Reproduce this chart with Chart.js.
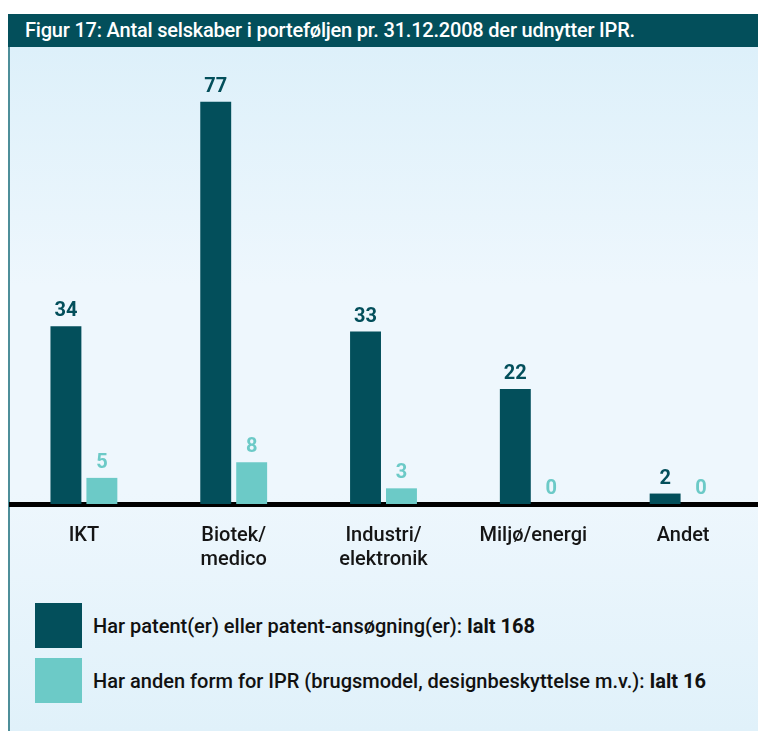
<!DOCTYPE html>
<html>
<head>
<meta charset="utf-8">
<script src="https://cdn.jsdelivr.net/npm/chart.js@4/dist/chart.umd.min.js"></script>
<style>
  html, body { margin:0; padding:0; background:#fff; }
  body { width:758px; height:731px; position:relative; overflow:hidden; font-family:Roboto, sans-serif; }
  #title { position:absolute; left:8px; top:14px; width:750px; height:33px; background:#034f5b; color:#fff;
           font-size:20px; font-weight:500; line-height:33px; padding-left:17px; box-sizing:border-box; white-space:nowrap; letter-spacing:-0.2px; }
  #panel { position:absolute; left:8px; top:47px; width:750px; height:684px; box-sizing:border-box;
           border-left:2px solid #4d8e99;
           background:linear-gradient(to bottom, #ddf0fa 0%, #eef7fd 35%, #eef7fd 65%, #e0f1fa 100%); }
  #chart-wrap { position:absolute; left:9px; top:47px; width:749px; height:528px; }
  #legend { position:absolute; left:35px; top:603px; }
  .leg-row { display:flex; align-items:center; height:45px; margin-bottom:10px; font-size:20px; font-weight:500; color:#111; }
  .leg-row b { font-weight:700; }
  .leg-box { width:47px; height:45px; margin-right:11px; }
</style>
</head>
<body>
<div id="title">Figur 17: Antal selskaber i porteføljen pr. 31.12.2008 der udnytter IPR.</div>
<div id="panel"></div>
<div id="chart-wrap"><canvas id="barChart"></canvas></div>
<div id="legend"></div>
<script>
// ---- DATA ----
const categories = [['IKT'], ['Biotek/', 'medico'], ['Industri/', 'elektronik'], ['Miljø/energi'], ['Andet']];
const patentValues = [34, 77, 33, 22, 2];
const otherIprValues = [5, 8, 3, 0, 0];
const seriesNames = ['Har patent(er) eller patent-ansøgning(er): ', 'Har anden form for IPR (brugsmodel, designbeskyttelse m.v.): '];
const seriesTotals = ['Ialt 168', 'Ialt 16'];
const seriesColors = ['#034f5b', '#6ccac7'];

const FONT = 'Roboto, sans-serif';

// value labels above bars
const valueLabels = {
  id:'valueLabels',
  afterDatasetsDraw(chart) {
    const ctx = chart.ctx;
    ctx.save();
    ctx.font = 'bold 20px ' + FONT;
    ctx.textAlign = 'center';
    ctx.textBaseline = 'bottom';
    chart.data.datasets.forEach((ds, i) => {
      const meta = chart.getDatasetMeta(i);
      ctx.fillStyle = ds.backgroundColor;
      meta.data.forEach((bar, j) => {
        ctx.fillText(ds.data[j], bar.x, bar.y - 5);
      });
    });
    ctx.restore();
  }
};

const ctx = document.getElementById('barChart');
new Chart(ctx, {
  type:'bar',
  data:{
    labels: categories,
    datasets:[
      { label: seriesNames[0], data: patentValues, backgroundColor: seriesColors[0], barPercentage:0.86, categoryPercentage:0.48 },
      { label: seriesNames[1], data: otherIprValues, backgroundColor: seriesColors[1], barPercentage:0.86, categoryPercentage:0.48 }
    ]
  },
  options:{
    responsive:true, maintainAspectRatio:false, animation:false,
    layout:{ padding:{ top:39, left:0, right:0, bottom:0 } },
    plugins:{ legend:{ display:false }, tooltip:{ enabled:false } },
    scales:{
      x:{
        grid:{ display:false },
        border:{ display:true, color:'#000', width:5 },
        ticks:{ color:'#151515', font:{ family:FONT, size:20, weight:'500' }, padding:12, maxRotation:0, autoSkip:false },
        afterFit(scale) { scale.height = 71; }
      },
      y:{ display:false, min:0, max:80 }
    }
  },
  plugins:[valueLabels]
});

// ---- LEGEND ----
const leg = document.getElementById('legend');
seriesNames.forEach((name, i) => {
  const row = document.createElement('div');
  row.className = 'leg-row';
  row.innerHTML = '<div class="leg-box" style="background:' + seriesColors[i] + '"></div><span>' + name + '<b>' + seriesTotals[i] + '</b></span>';
  leg.appendChild(row);
});
</script>
</body>
</html>
